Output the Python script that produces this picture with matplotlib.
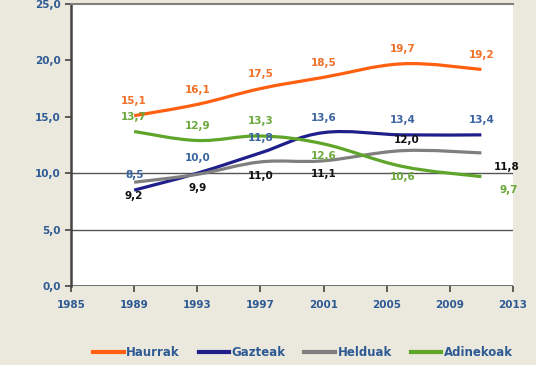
import matplotlib.pyplot as plt
from matplotlib.path import Path
from matplotlib.patches import PathPatch

years = [1989, 1993, 1997, 2001, 2006, 2011]
haurrak = [15.1, 16.1, 17.5, 18.5, 19.7, 19.2]
gazteak = [8.5, 10.0, 11.8, 13.6, 13.4, 13.4]
helduak = [9.2, 9.9, 11.0, 11.1, 12.0, 11.8]
adinekoak = [13.7, 12.9, 13.3, 12.6, 10.6, 9.7]
names = ["Haurrak", "Gazteak", "Helduak", "Adinekoak"]
colors = ["#ff6010", "#1f1f8c", "#7f7f7f", "#5fa52a"]
label_colors = ["#f07028", "#3a63a0", "#111111", "#6aa83a"]
xticks = [1985, 1989, 1993, 1997, 2001, 2005, 2009, 2013]
yticks = [0, 5, 10, 15, 20, 25]

# label offsets in points (dx, dy) per series / point
offsets = [
    [(0, 7)] * 6,
    [(0, 7), (0, 7), (0, 7), (0, 7), (0, 7), (0, 7)],
    [(0, -12), (0, -12), (0, -12), (0, -12), (3, 4), (18, -12)],
    [(0, 7), (0, 7), (0, 7), (0, -11), (0, -10), (20, -12)],
]


def smooth_path(xs, ys, t=0.18):
    # cubic bezier (Catmull-Rom style) through the data points
    verts = [(xs[0], ys[0])]
    codes = [Path.MOVETO]
    n = len(xs)
    for i in range(n - 1):
        x0, y0 = (xs[i - 1], ys[i - 1]) if i > 0 else (xs[i], ys[i])
        x1, y1 = xs[i], ys[i]
        x2, y2 = xs[i + 1], ys[i + 1]
        x3, y3 = (xs[i + 2], ys[i + 2]) if i + 2 < n else (x2, y2)
        c1 = (x1 + (x2 - x0) * t, y1 + (y2 - y0) * t)
        c2 = (x2 - (x3 - x1) * t, y2 - (y3 - y1) * t)
        verts += [c1, c2, (x2, y2)]
        codes += [Path.CURVE4] * 3
    return Path(verts, codes)


fig = plt.figure(figsize=(5.36, 3.65), dpi=100)
fig.patch.set_facecolor("#ebe9dd")
ax = fig.add_axes([0.1325, 0.2164, 0.8245, 0.7726])
ax.set_facecolor("white")

ax.set_xlim(1985, 2013)
ax.set_ylim(0, 25)

for y in [5, 10]:
    ax.axhline(y, color="#555555", lw=1.0, zorder=1)

series = [haurrak, gazteak, helduak, adinekoak]
for k, (vals, name, c) in enumerate(zip(series, names, colors)):
    ax.add_patch(PathPatch(smooth_path(years, vals), facecolor="none",
                           edgecolor=c, lw=2.3, zorder=3))
    ax.plot([], [], color=c, lw=3, label=name)
    for i, (x, v) in enumerate(zip(years, vals)):
        dx, dy = offsets[k][i]
        ax.annotate(f"{v:.1f}".replace(".", ","), (x, v), xytext=(dx, dy),
                    textcoords="offset points", ha="center", va="bottom" if dy > 0 else "baseline",
                    fontsize=7.5, fontweight="bold", color=label_colors[k], zorder=4)

for s in ["right", "bottom"]:
    ax.spines[s].set_visible(False)
ax.spines["left"].set_color("#444444")
ax.spines["left"].set_linewidth(1.8)
ax.spines["top"].set_color("#808080")
ax.spines["top"].set_linewidth(1.5)
ax.axhline(0, color="#444444", lw=1.8, zorder=2)

ax.set_xticks(xticks)
ax.set_xticklabels([str(v) for v in xticks])
ax.set_yticks(yticks)
ax.set_yticklabels([f"{v:.1f}".replace(".", ",") for v in yticks])
ax.tick_params(axis="both", colors="#444444", labelcolor="#2e5a94", labelsize=7.5, length=4, width=1.2)
ax.tick_params(axis="x", pad=6)
for lab in ax.get_xticklabels() + ax.get_yticklabels():
    lab.set_fontweight("bold")

leg = fig.legend(loc="center", bbox_to_anchor=(0.565, 0.035), ncol=4, frameon=False,
                 fontsize=8.5, handlelength=2.6, handletextpad=0.2, columnspacing=1.6)
for t in leg.get_texts():
    t.set_color("#2e5a94")
    t.set_fontweight("bold")

fig.savefig("out.png", dpi=100, facecolor=fig.get_facecolor())
